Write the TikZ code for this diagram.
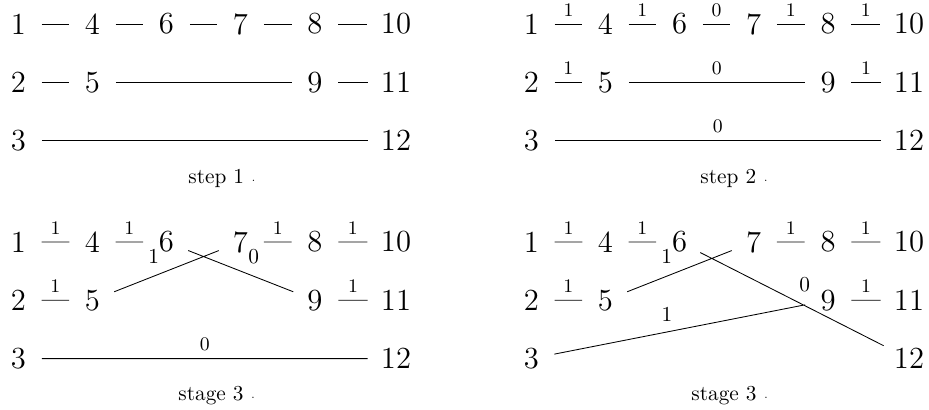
\documentclass[tikz,border=0pt]{standalone}
\usepackage{amsmath}

\begin{document}
\begin{tikzpicture}[x=0.4695pt, y=-0.4695pt,
  num/.style={circle, font=\Large},
  wlab/.style={above, font=\small},
  xlab/.style={auto},
  captext/.style={anchor=base west, inner sep=0pt}]
\useasboundingbox (0,0) rectangle (929,409);
% the same twelve numbers in all four parts
\foreach \p/\dx/\dy in {a/0/0, b/513/0, c/0/218, d/513/218} {
  \foreach \n/\cx/\ry in {1/18.5/24, 4/92.5/24, 6/166.5/24, 7/240.5/24, 8/315/24, 10/396/24,
                          2/18.5/82.3, 5/92.5/82.3, 9/315/82.3, 11/396/82.3,
                          3/18.5/140.6, 12/396/140.6}
    \node[num] (\p\n) at (\cx+\dx, \ry+\dy) {\n};
}
% step 1
\draw (a1) -- (a4) (a4) -- (a6) (a6) -- (a7) (a7) -- (a8) (a8) -- (a10)
      (a2) -- (a5) (a5) -- (a9) (a9) -- (a11)
      (a3) -- (a12);
\node[captext] (capa) at (188,183) {step 1 {\tiny$\cdot$}};
% step 2
\draw (b1) -- node[wlab]{1} (b4) (b4) -- node[wlab]{1} (b6) (b6) -- node[wlab]{0} (b7)
      (b7) -- node[wlab]{1} (b8) (b8) -- node[wlab]{1} (b10)
      (b2) -- node[wlab]{1} (b5) (b5) -- node[wlab]{0} (b9) (b9) -- node[wlab]{1} (b11)
      (b3) -- node[wlab]{0} (b12);
\node[captext] (capb) at (700,183) {step 2 {\tiny$\cdot$}};
% stage 3, first
\draw (c1) -- node[wlab]{1} (c4) (c4) -- node[wlab]{1} (c6)
      (c7) -- node[wlab]{1} (c8) (c8) -- node[wlab]{1} (c10)
      (c2) -- node[wlab]{1} (c5) (c9) -- node[wlab]{1} (c11)
      (c3) -- node[wlab]{0} (c12)
      (c5) -- node[xlab]{1} (c7) (c6) -- node[xlab]{0} (c9);
\node[captext] (capc) at (178,400) {stage 3 {\tiny$\cdot$}};
% stage 3, second
\draw (d1) -- node[wlab]{1} (d4) (d4) -- node[wlab]{1} (d6)
      (d7) -- node[wlab]{1} (d8) (d8) -- node[wlab]{1} (d10)
      (d2) -- node[wlab]{1} (d5) (d9) -- node[wlab]{1} (d11)
      (d5) -- node[xlab]{1} (d7) (d6) -- node[xlab]{0} (d12)
      (d3) -- node[xlab]{1} (d9);
\node[captext] (capd) at (691,400) {stage 3 {\tiny$\cdot$}};
\end{tikzpicture}
\end{document}
